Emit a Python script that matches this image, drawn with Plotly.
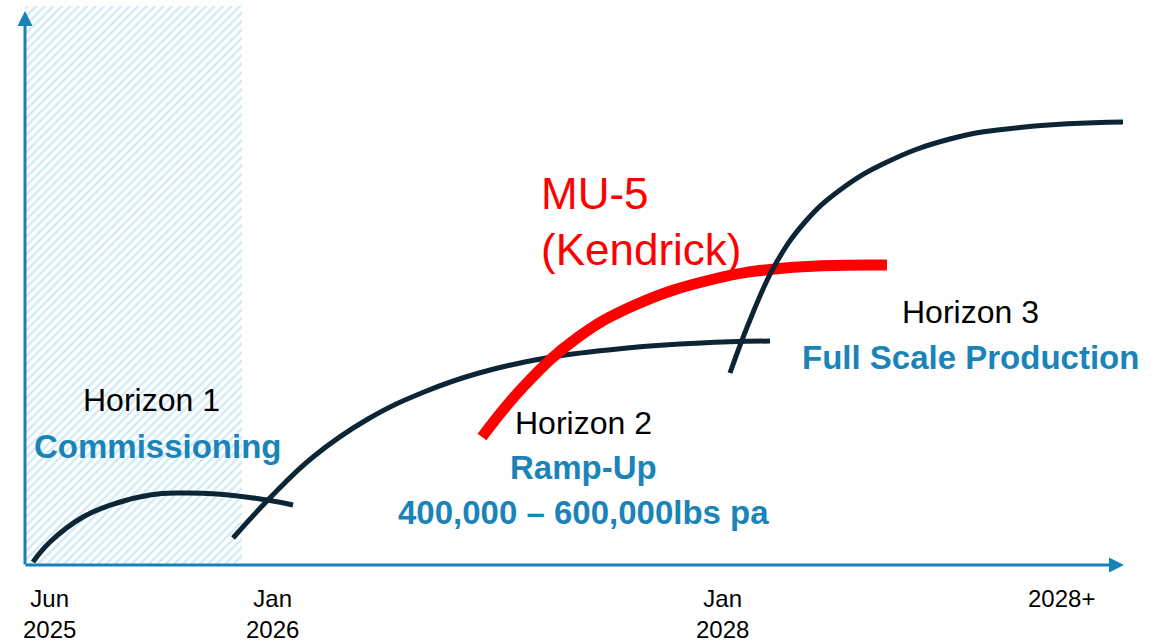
import plotly.graph_objects as go

# timeline units run right from the origin, output units run up (both arbitrary)
h1_x = [8, 25, 58, 92, 125, 155, 192, 242, 268]
h1_y = [3, 23, 48, 62, 70, 72, 71, 65, 60]

h2_x = [208, 243, 288, 343, 399, 454, 521, 602, 676, 745]
h2_y = [27, 65, 108, 146, 173, 192, 207, 217, 222, 224]

h3_x = [705, 725, 750, 780, 815, 860, 925, 1000, 1098]
h3_y = [192, 245, 300, 343, 375, 402, 426, 438, 443]

mu5_x = [457, 500, 552, 610, 685, 760, 862]
mu5_y = [128, 180, 227, 260, 285, 297, 300]

commissioning_x = [0, 217]
commissioning_top = 559

tick_pos = [24, 247, 697, 1036]
tick_text = ["Jun<br>2025", "Jan<br>2026", "Jan<br>2028", "2028+"]

x_end = 1099
y_end = 554

NAVY = "#0b2535"
BLUE = "#1a84b8"
AXIS = "#1682b9"

fig = go.Figure()

# hatched commissioning period
fig.add_trace(go.Scatter(
    x=[commissioning_x[0], commissioning_x[1], commissioning_x[1], commissioning_x[0], commissioning_x[0]],
    y=[0, 0, commissioning_top, commissioning_top, 0],
    mode="lines", line=dict(width=0), fill="toself", fillcolor="rgba(0,0,0,0)",
    fillpattern=dict(shape="/", fgcolor="#9fd6ee", bgcolor="white", size=6, solidity=0.4),
    hoverinfo="skip", showlegend=False,
))

for xs, ys in [(h1_x, h1_y), (h2_x, h2_y)]:
    fig.add_trace(go.Scatter(x=xs, y=ys, mode="lines",
                             line=dict(color=NAVY, width=5, shape="spline", smoothing=1.2),
                             showlegend=False))

fig.add_trace(go.Scatter(x=mu5_x, y=mu5_y, mode="lines",
                         line=dict(color="#ff0000", width=11, shape="spline", smoothing=1.2),
                         showlegend=False))

fig.add_trace(go.Scatter(x=h3_x, y=h3_y, mode="lines",
                         line=dict(color=NAVY, width=5, shape="spline", smoothing=1.2),
                         showlegend=False))

# axes with arrowheads
fig.add_annotation(x=x_end, y=0, ax=-1, ay=0, xref="x", yref="y", axref="x", ayref="y",
                   text="", showarrow=True, arrowhead=2, arrowsize=1, arrowwidth=3,
                   arrowcolor=AXIS)
fig.add_annotation(x=0, y=y_end, ax=0, ay=-1, xref="x", yref="y", axref="x", ayref="y",
                   text="", showarrow=True, arrowhead=2, arrowsize=1, arrowwidth=3,
                   arrowcolor=AXIS)

for xp, txt in zip(tick_pos, tick_text):
    fig.add_annotation(x=xp, y=-18, text=txt, showarrow=False, yanchor="top",
                       font=dict(size=24, color="black"))

labels = [
    (126, 165, "Horizon 1", False),
    (133, 119, "Commissioning", True),
    (558, 142, "Horizon 2", False),
    (558, 98, "Ramp-Up", True),
    (558, 53, "400,000 – 600,000lbs pa", True),
    (945, 253, "Horizon 3", False),
    (945, 208, "Full Scale Production", True),
]
for xp, yp, txt, bold in labels:
    fig.add_annotation(x=xp, y=yp, text=f"<b>{txt}</b>" if bold else txt,
                       showarrow=False,
                       font=dict(size=32 if not bold else 33, color=BLUE if bold else "black"))

fig.add_annotation(x=514, y=372, text="MU-5", showarrow=False, xanchor="left",
                   font=dict(size=44, color="#ff0000"))
fig.add_annotation(x=514, y=316, text="(Kendrick)", showarrow=False, xanchor="left",
                   font=dict(size=44, color="#ff0000"))

fig.update_layout(
    width=1153, height=644,
    margin=dict(l=0, r=0, t=0, b=0),
    paper_bgcolor="white", plot_bgcolor="white",
    font=dict(family="Liberation Sans, Arial, sans-serif"),
    xaxis=dict(range=[-25, 1128], visible=False),
    yaxis=dict(range=[-79, 565], visible=False),
    showlegend=False,
)

fig.write_html("out.html", config={"displayModeBar": False},
               post_script="document.body.style.margin='0';")
